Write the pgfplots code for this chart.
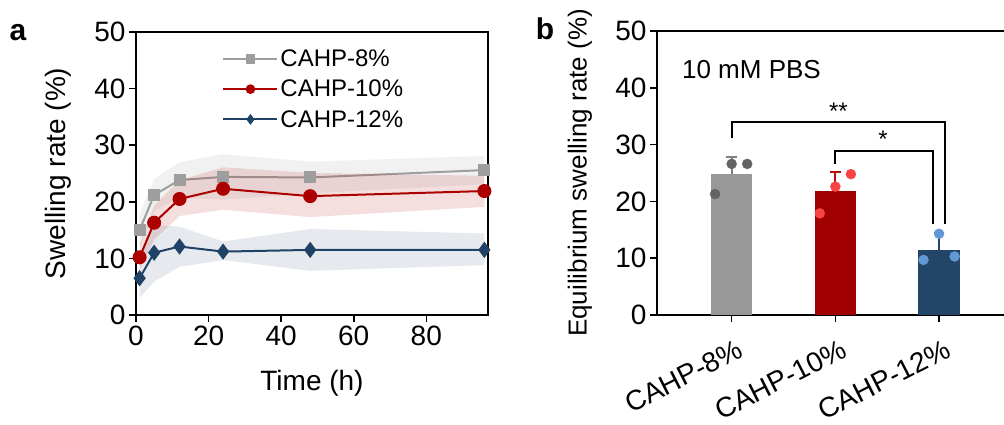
\documentclass[border=0pt]{standalone}
\usepackage{fontspec}
\setmainfont{Liberation Sans}
\usepackage{pgfplots}
\usepackage{pgfplotstable}
\pgfplotsset{compat=1.18}

\definecolor{cgray}{RGB}{158,158,158}
\definecolor{cred}{RGB}{172,0,0}
\definecolor{cblue}{RGB}{31,66,102}
\definecolor{bgray}{RGB}{152,152,152}
\definecolor{bred}{RGB}{160,0,0}
\definecolor{bblue}{RGB}{35,69,104}
\definecolor{pgray}{RGB}{100,100,100}
\definecolor{pred}{RGB}{250,68,68}
\definecolor{pblue}{RGB}{100,152,212}

% time course means
\pgfplotstableread{
t  m8    m10  m12
1  15.0  10.2 6.5
5  21.2  16.3 11.0
12 23.85 20.5 12.1
24 24.4  22.3 11.2
48 24.3  21.0 11.5
96 25.6  21.9 11.5
}\swell

% shaded bands: upper edge forward, lower edge back
\pgfplotstableread{
t  b8   b10  b12
1  18.0 12.5 10.0
5  24.0 19.3 15.9
12 27.0 23.8 15.6
24 28.4 26.1 13.0
48 27.1 25.1 15.2
96 28.1 24.6 14.4
96 23.1 19.1 8.8
48 21.5 17.3 7.8
24 20.4 18.6 9.7
12 20.7 17.5 8.5
5  18.4 13.3 5.9
1  12.0 8.0  3.0
}\band

\pgfplotsset{
  panel/.style={
    scale only axis,
    axis line style={line width=1.6pt},
    tick style={line width=1.6pt, black},
    tick align=outside, major tick length=7pt, tick pos=left,
    /pgf/number format/assume math mode=true,
    tick label style={font=\fontsize{28}{30}\selectfont},
    label style={font=\fontsize{28}{30}\selectfont},
    ymin=0, ymax=50, ytick={0,10,...,50},
  },
  ebar/.style={line width=2pt, forget plot},
}

\begin{document}
\begin{tikzpicture}
\useasboundingbox (0pt,0pt) rectangle (1004pt,425pt);

\node[font=\bfseries\fontsize{30}{30}\selectfont] at (18pt,392pt) {a};
\node[font=\bfseries\fontsize{30}{30}\selectfont] at (545pt,396pt) {b};

% ---- panel a
\begin{axis}[panel,
  at={(136pt,110pt)}, anchor=south west, width=352pt, height=283pt,
  xmin=0, xmax=97, xtick={0,20,...,80},
  clip=false,
  xlabel={Time (h)}, ylabel={Swelling rate (\%)},
  xlabel style={at={(axis description cs:0.5,-0.24)}, anchor=center},
  ylabel style={at={(axis description cs:-0.222,0.5)}, anchor=center},
  legend style={at={(0.245,0.945)}, anchor=north west, draw=none, fill=none,
    font=\fontsize{24}{26}\selectfont, row sep=8pt, inner sep=0pt,
    /tikz/every even column/.append style={column sep=6pt}},
  legend cell align=left,
  legend image code/.code={\draw[mark repeat=2, mark phase=2, #1, mark size=3.8pt] plot coordinates {(0pt,0pt) (27pt,0pt) (54pt,0pt)};},
]
\addplot[fill=cgray, fill opacity=0.14, draw=none, forget plot] table[x=t,y=b8] {\band};
\addplot[cgray, line width=2pt, mark=square*, mark size=5pt] table[x=t,y=m8] {\swell};
\addlegendentry{CAHP-8\%}

\addplot[fill=cred, fill opacity=0.13, draw=none, forget plot] table[x=t,y=b10] {\band};
\addplot[cred, line width=2pt, mark=*, mark size=6pt] table[x=t,y=m10] {\swell};
\addlegendentry{CAHP-10\%}

\addplot[fill=cblue, fill opacity=0.11, draw=none, forget plot] table[x=t,y=b12] {\band};
\addplot[cblue, line width=2pt, mark=diamond*, mark size=6.5pt] table[x=t,y=m12] {\swell};
\addlegendentry{CAHP-12\%}
\end{axis}

% ---- panel b
\begin{axis}[panel,
  at={(657pt,110pt)}, anchor=south west, width=356.7pt, height=284pt,
  xmin=-0.72, xmax=2.72, xtick={0,1,2},
  xticklabels={CAHP-8\%, CAHP-10\%, CAHP-12\%},
  x tick label style={rotate=27, anchor=north east, xshift=0pt, yshift=-13pt, font=\fontsize{28}{30}\selectfont},
  ylabel={Equilibrium swelling rate (\%)},
  ylabel style={at={(axis description cs:-0.216,0.5)}, anchor=center, font=\fontsize{26}{28}\selectfont},
]
\addplot[ybar, bar width=41.6pt, bar shift=0pt, fill=bgray, draw=none] coordinates {(0,24.8)};
\addplot[ybar, bar width=41.6pt, bar shift=0pt, fill=bred, draw=none] coordinates {(1,21.8)};
\addplot[ybar, bar width=41.6pt, bar shift=0pt, fill=bblue, draw=none] coordinates {(2,11.4)};

% one-sided error bars (mean to mean+SD) with caps
\addplot[ebar, color=bgray!85!black] coordinates {(0,24.8) (0,27.9)};
\addplot[ebar, color=bgray!85!black] coordinates {(-0.05,27.9) (0.05,27.9)};
\addplot[ebar, color=bred!80!pred] coordinates {(1,21.8) (1,25.2)};
\addplot[ebar, color=bred!80!pred] coordinates {(0.95,25.2) (1.05,25.2)};
\addplot[ebar, color=bblue] coordinates {(2,11.4) (2,14.4)};
\addplot[ebar, color=bblue] coordinates {(1.95,14.4) (2.05,14.4)};

\addplot[only marks, mark=*, mark size=5pt, color=pgray] coordinates {(-0.16,21.3) (0,26.6) (0.15,26.6)};
\addplot[only marks, mark=*, mark size=5pt, color=pred] coordinates {(0.85,17.9) (1,22.6) (1.15,24.8)};
\addplot[only marks, mark=*, mark size=5pt, color=pblue] coordinates {(1.85,9.7) (2,14.3) (2.15,10.3)};

\addplot[black, line width=2pt] coordinates {(0,31.1) (0,34.0) (2.06,34.0) (2.06,16.0)};
\addplot[black, line width=2pt] coordinates {(1,26.6) (1,28.9) (1.94,28.9) (1.94,16.0)};
\node[anchor=base, inner sep=0pt, font=\fontsize{24}{24}\selectfont] at (axis cs:1.03,34.4) {**};
\node[anchor=base, inner sep=0pt, font=\fontsize{24}{24}\selectfont] at (axis cs:1.46,29.5) {*};
\node[anchor=west, inner sep=0pt, font=\fontsize{26}{28}\selectfont] at (axis cs:-0.48,43.3) {10 mM PBS};
\end{axis}
\end{tikzpicture}
\end{document}
